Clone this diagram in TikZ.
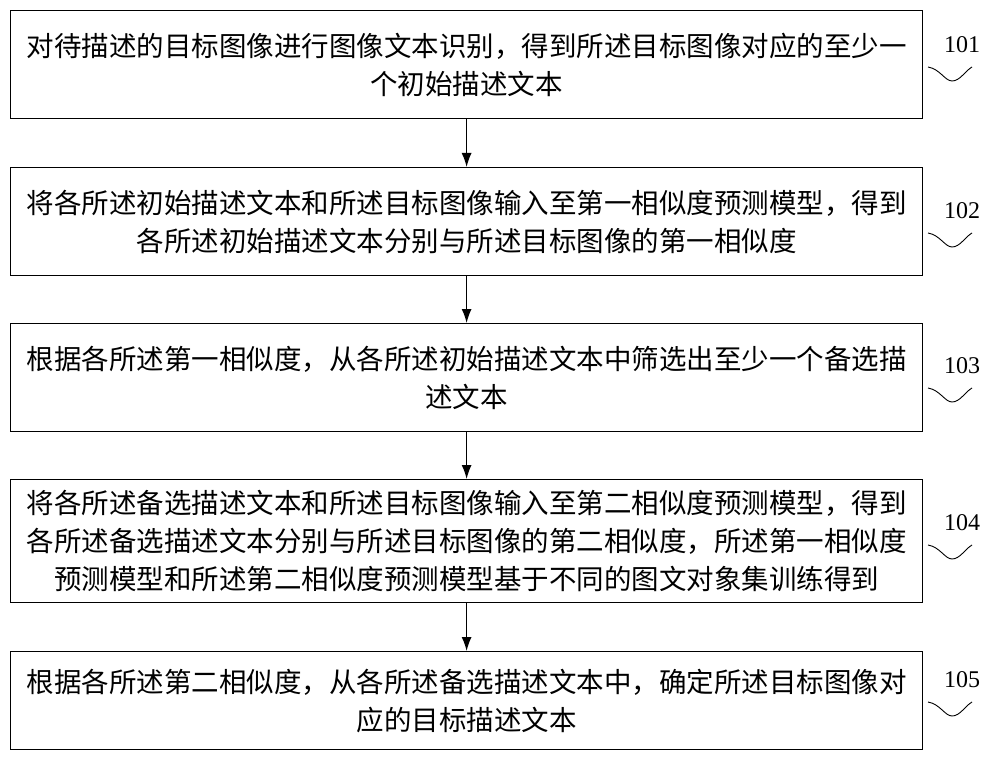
\documentclass[tikz,border=0pt]{standalone}
\usepackage{fontspec}
\usetikzlibrary{arrows.meta}
\newfontfamily\cjk{Noto Sans CJK SC}
\setmainfont{Liberation Serif}
\begin{document}
\begin{tikzpicture}[x=1pt,y=-1pt,
 boxs/.style={draw,line width=1.2pt},
 txt/.style={font=\cjk\fontsize{27.5}{38}\selectfont,align=center,inner sep=0pt},
 lab/.style={font=\fontsize{24}{26}\selectfont,inner sep=0pt},
 arr/.style={-{Latex[length=14pt,width=10pt]},line width=1.2pt}]
\useasboundingbox (0,0) rectangle (1000,759);
\foreach \n/\t/\b in {1/10/118,2/167/275,3/323/431,4/479/602,5/651/749}{
  \node[boxs,minimum width=912pt,minimum height={\b-\t},anchor=north west,inner sep=0pt] (b\n) at (10,\t) {};
}
\node[txt] at (b1) {对待描述的目标图像进行图像文本识别，得到所述目标图像对应的至少一\\个初始描述文本};
\node[txt] at (b2) {将各所述初始描述文本和所述目标图像输入至第一相似度预测模型，得到\\各所述初始描述文本分别与所述目标图像的第一相似度};
\node[txt] at (b3) {根据各所述第一相似度，从各所述初始描述文本中筛选出至少一个备选描\\述文本};
\node[txt] at (b4) {将各所述备选描述文本和所述目标图像输入至第二相似度预测模型，得到\\各所述备选描述文本分别与所述目标图像的第二相似度，所述第一相似度\\预测模型和所述第二相似度预测模型基于不同的图文对象集训练得到};
\node[txt] at (b5) {根据各所述第二相似度，从各所述备选描述文本中，确定所述目标图像对\\应的目标描述文本};
\foreach \a/\b in {1/2,2/3,3/4,4/5}{\draw[arr] (b\a.south) -- (b\b.north);}
\foreach \n/\y in {1/45,2/211,3/366,4/523,5/680}{
  \node[lab] (l\n) at (962,\y) {10\n};
  \draw[line width=0.9pt] (928,\y+22) .. controls (940,\y+24) and (945,\y+36) .. (952,\y+36) .. controls (960,\y+36) and (965,\y+26) .. (972,\y+22);
}
\end{tikzpicture}
\end{document}
